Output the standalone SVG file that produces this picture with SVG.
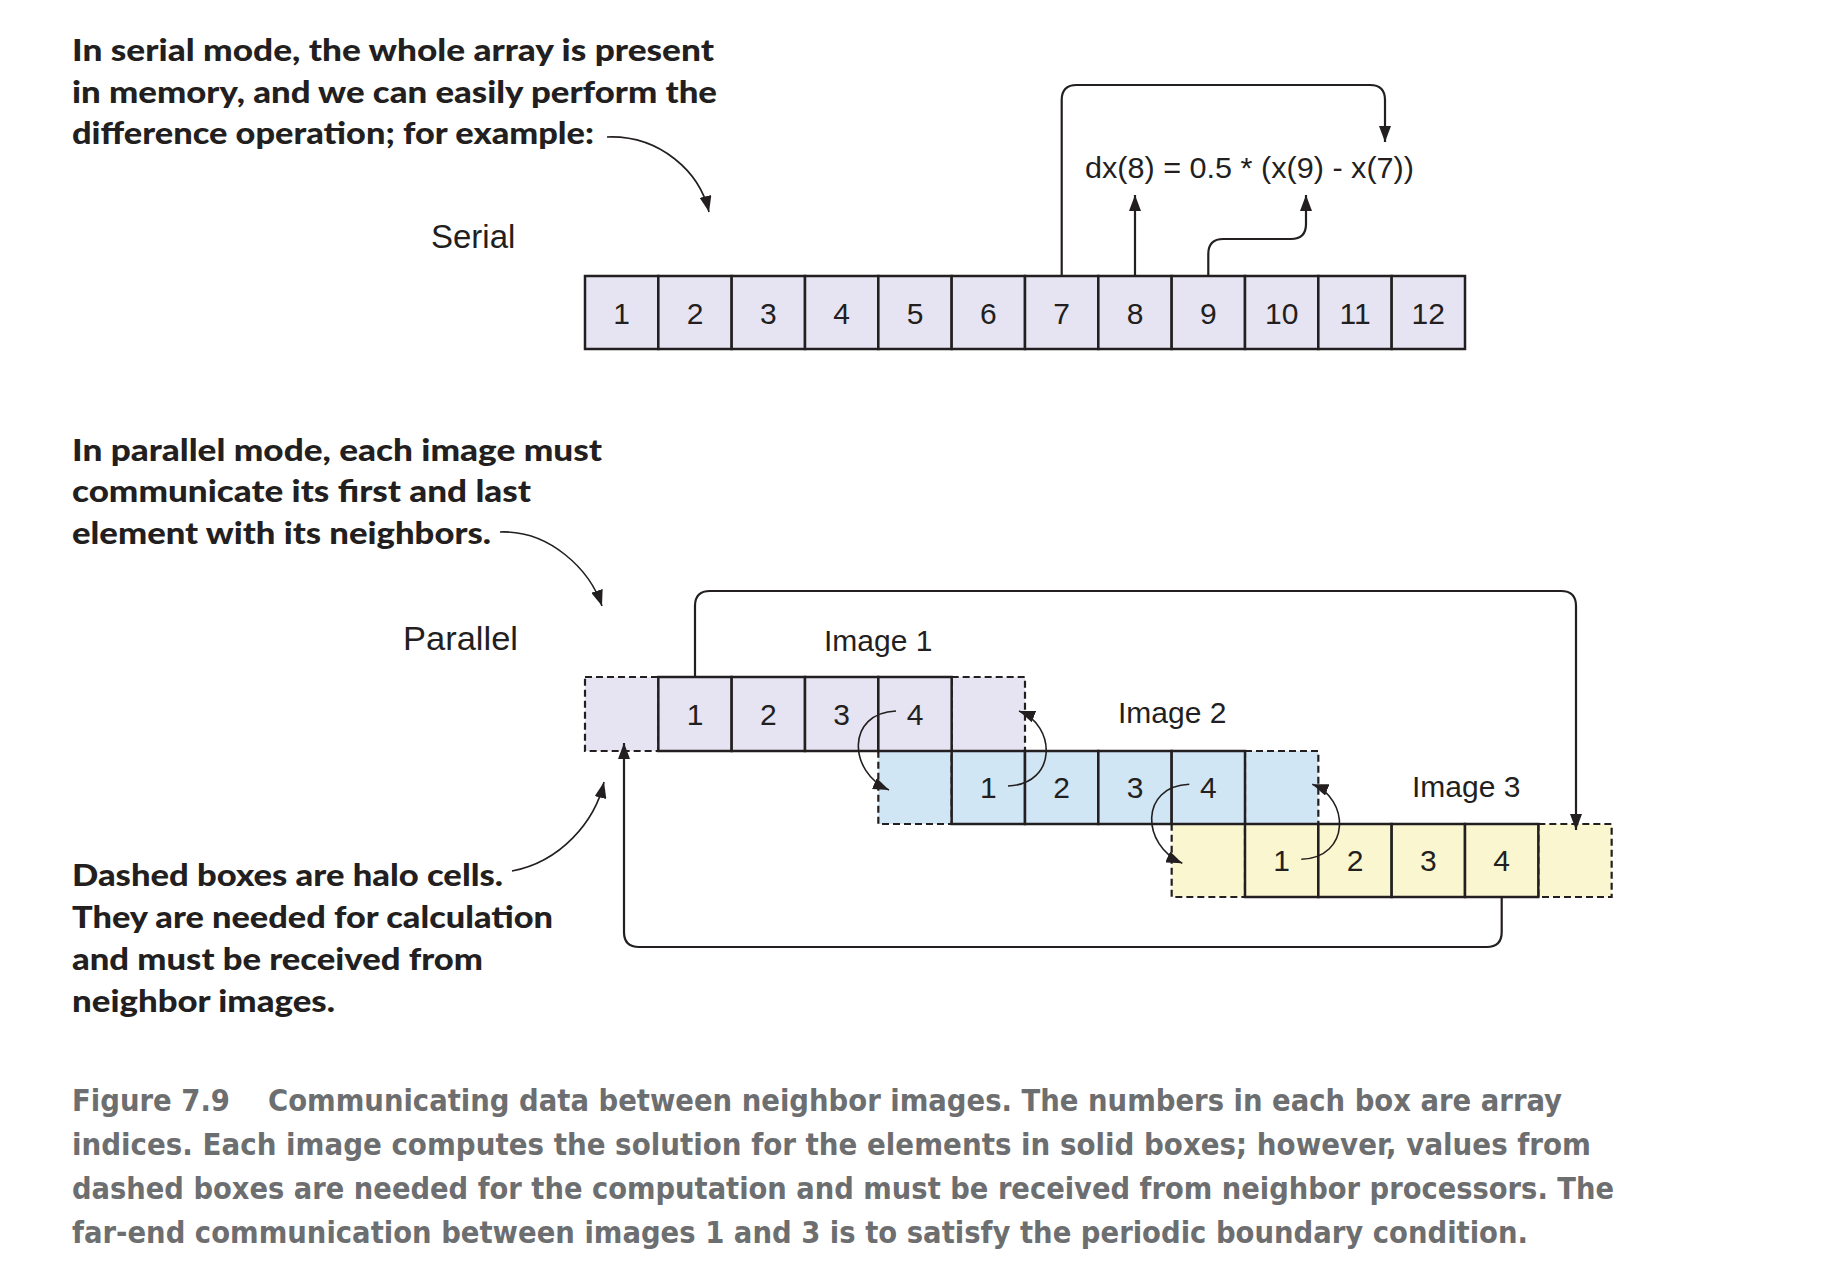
<svg xmlns="http://www.w3.org/2000/svg" width="1825" height="1273" viewBox="0 0 1825 1273">
<style>
.note{font-family:Lato,"Open Sans","DejaVu Sans",sans-serif;font-weight:900;font-size:31px;fill:#231f20}
.cap{font-family:"Liberation Sans Narrow","DejaVu Sans Condensed",Roboto,sans-serif;font-weight:700;font-size:30px;fill:#6d6e70}
.lbl{font-family:"Liberation Sans",Arial,sans-serif;font-size:30px;fill:#231f20}
.big{font-family:"Liberation Sans",Arial,sans-serif;font-size:33px;fill:#231f20}
.num{font-family:"Liberation Sans",Arial,sans-serif;font-size:30px;fill:#231f20;text-anchor:middle}
.c1{fill:#e6e4f2;stroke:#231f20;stroke-width:2.5}
.c2{fill:#d0e6f5;stroke:#231f20;stroke-width:2.5}
.c3{fill:#faf7d0;stroke:#231f20;stroke-width:2.5}
.h1{fill:#e6e4f2;stroke:#231f20;stroke-width:2.2;stroke-dasharray:7 4}
.h2{fill:#d0e6f5;stroke:#231f20;stroke-width:2.2;stroke-dasharray:7 4}
.h3{fill:#faf7d0;stroke:#231f20;stroke-width:2.2;stroke-dasharray:7 4}
.ln{fill:none;stroke:#231f20;stroke-width:2.2;marker-end:url(#ah)}
.thin{fill:none;stroke:#231f20;stroke-width:1.6;marker-end:url(#ah)}
</style>
<defs>
<marker id="ah" markerUnits="userSpaceOnUse" markerWidth="18" markerHeight="12" refX="16" refY="6" orient="auto">
<path d="M0,0 L16,6 L0,12 Z" fill="#231f20"/>
</marker>
</defs>
<rect width="1825" height="1273" fill="#ffffff"/>

<g id="note-serial">
<text class="note" x="72" y="61" textLength="642" lengthAdjust="spacingAndGlyphs">In serial mode, the whole array is present</text>
<text class="note" x="72" y="103" textLength="645" lengthAdjust="spacingAndGlyphs">in memory, and we can easily perform the</text>
<text class="note" x="72" y="144" textLength="522" lengthAdjust="spacingAndGlyphs">difference operation; for example:</text>
</g>
<g id="note-parallel">
<text class="note" x="72" y="461" textLength="530" lengthAdjust="spacingAndGlyphs">In parallel mode, each image must</text>
<text class="note" x="72" y="502" textLength="459" lengthAdjust="spacingAndGlyphs">communicate its first and last</text>
<text class="note" x="72" y="544" textLength="419" lengthAdjust="spacingAndGlyphs">element with its neighbors.</text>
</g>
<g id="note-halo">
<text class="note" x="72" y="886" textLength="431" lengthAdjust="spacingAndGlyphs">Dashed boxes are halo cells.</text>
<text class="note" x="72" y="928" textLength="481" lengthAdjust="spacingAndGlyphs">They are needed for calculation</text>
<text class="note" x="72" y="970" textLength="411" lengthAdjust="spacingAndGlyphs">and must be received from</text>
<text class="note" x="72" y="1012" textLength="263" lengthAdjust="spacingAndGlyphs">neighbor images.</text>
</g>

<g id="labels">
<text class="big" x="431" y="248">Serial</text>
<text class="big" x="403" y="650" textLength="115" lengthAdjust="spacingAndGlyphs">Parallel</text>
<text class="lbl" x="824" y="651">Image 1</text>
<text class="lbl" x="1118" y="723">Image 2</text>
<text class="lbl" x="1412" y="797">Image 3</text>
<text class="lbl" x="1085" y="178" textLength="329" lengthAdjust="spacingAndGlyphs">dx(8) = 0.5 * (x(9) - x(7))</text>
</g>

<g id="serial-array">
<rect class="c1" x="585" y="276" width="73.33" height="73"/>
<rect class="c1" x="658.33" y="276" width="73.33" height="73"/>
<rect class="c1" x="731.67" y="276" width="73.33" height="73"/>
<rect class="c1" x="805" y="276" width="73.33" height="73"/>
<rect class="c1" x="878.33" y="276" width="73.33" height="73"/>
<rect class="c1" x="951.67" y="276" width="73.33" height="73"/>
<rect class="c1" x="1025" y="276" width="73.33" height="73"/>
<rect class="c1" x="1098.33" y="276" width="73.33" height="73"/>
<rect class="c1" x="1171.67" y="276" width="73.33" height="73"/>
<rect class="c1" x="1245" y="276" width="73.33" height="73"/>
<rect class="c1" x="1318.33" y="276" width="73.33" height="73"/>
<rect class="c1" x="1391.67" y="276" width="73.33" height="73"/>
<text class="num" x="621.7" y="324">1</text>
<text class="num" x="695" y="324">2</text>
<text class="num" x="768.3" y="324">3</text>
<text class="num" x="841.7" y="324">4</text>
<text class="num" x="915" y="324">5</text>
<text class="num" x="988.3" y="324">6</text>
<text class="num" x="1061.7" y="324">7</text>
<text class="num" x="1135" y="324">8</text>
<text class="num" x="1208.3" y="324">9</text>
<text class="num" x="1281.7" y="324">10</text>
<text class="num" x="1355" y="324">11</text>
<text class="num" x="1428.3" y="324">12</text>
</g>

<g id="halos">
<rect class="h1" x="585" y="677" width="73.33" height="74"/>
<rect class="h1" x="951.67" y="677" width="73.33" height="74"/>
<rect class="h2" x="878.33" y="751" width="73.33" height="73"/>
<rect class="h2" x="1245" y="751" width="73.33" height="73"/>
<rect class="h3" x="1171.67" y="824" width="73.33" height="73"/>
<rect class="h3" x="1538.33" y="824" width="73.33" height="73"/>
</g>

<g id="image1">
<rect class="c1" x="658.33" y="677" width="73.33" height="74"/>
<rect class="c1" x="731.67" y="677" width="73.33" height="74"/>
<rect class="c1" x="805" y="677" width="73.33" height="74"/>
<rect class="c1" x="878.33" y="677" width="73.33" height="74"/>
<text class="num" x="695" y="725">1</text>
<text class="num" x="768.3" y="725">2</text>
<text class="num" x="841.7" y="725">3</text>
<text class="num" x="915" y="725">4</text>
</g>
<g id="image2">
<rect class="c2" x="951.67" y="751" width="73.33" height="73"/>
<rect class="c2" x="1025" y="751" width="73.33" height="73"/>
<rect class="c2" x="1098.33" y="751" width="73.33" height="73"/>
<rect class="c2" x="1171.67" y="751" width="73.33" height="73"/>
<text class="num" x="988.3" y="798">1</text>
<text class="num" x="1061.7" y="798">2</text>
<text class="num" x="1135" y="798">3</text>
<text class="num" x="1208.3" y="798">4</text>
</g>
<g id="image3">
<rect class="c3" x="1245" y="824" width="73.33" height="73"/>
<rect class="c3" x="1318.33" y="824" width="73.33" height="73"/>
<rect class="c3" x="1391.67" y="824" width="73.33" height="73"/>
<rect class="c3" x="1465" y="824" width="73.33" height="73"/>
<text class="num" x="1281.7" y="871">1</text>
<text class="num" x="1355" y="871">2</text>
<text class="num" x="1428.3" y="871">3</text>
<text class="num" x="1501.7" y="871">4</text>
</g>

<g id="connectors">
<path class="ln" d="M1061.7 276 V100 Q1061.7 85 1076.7 85 H1370 Q1385 85 1385 100 V142"/>
<path class="ln" d="M1135 276 V195"/>
<path class="ln" d="M1208.3 276 V254 Q1208.3 239 1223.3 239 H1291 Q1306 239 1306 224 V195"/>
<path class="ln" d="M695 677 V606 Q695 591 710 591 H1561 Q1576 591 1576 606 V830"/>
<path class="ln" d="M1501.7 897 V932 Q1501.7 947 1486.7 947 H639 Q624 947 624 932 V743"/>
<path class="thin" d="M896 711 C846 713 848 772 889 790"/>
<path class="thin" d="M1008 786 C1058 784 1056 725 1019 711"/>
<path class="thin" d="M1189.3 784.3 C1139.3 786.3 1141.3 845.3 1182.3 863.3"/>
<path class="thin" d="M1301.3 859.3 C1351.3 857.3 1349.3 798.3 1312.3 784.3"/>
<path class="thin" d="M607 137 C660 135 700 172 709 212"/>
<path class="thin" d="M500 532 C550 530 590 570 602 606"/>
<path class="thin" d="M512 871 C560 862 595 822 604 782"/>
</g>

<g id="caption">
<text class="cap" x="72" y="1111" textLength="158" lengthAdjust="spacingAndGlyphs">Figure 7.9</text>
<text class="cap" x="268" y="1111" textLength="1294" lengthAdjust="spacingAndGlyphs">Communicating data between neighbor images. The numbers in each box are array</text>
<text class="cap" x="72" y="1155" textLength="1519" lengthAdjust="spacingAndGlyphs">indices. Each image computes the solution for the elements in solid boxes; however, values from</text>
<text class="cap" x="72" y="1199" textLength="1542" lengthAdjust="spacingAndGlyphs">dashed boxes are needed for the computation and must be received from neighbor processors. The</text>
<text class="cap" x="72" y="1243" textLength="1456" lengthAdjust="spacingAndGlyphs">far-end communication between images 1 and 3 is to satisfy the periodic boundary condition.</text>
</g>
</svg>
